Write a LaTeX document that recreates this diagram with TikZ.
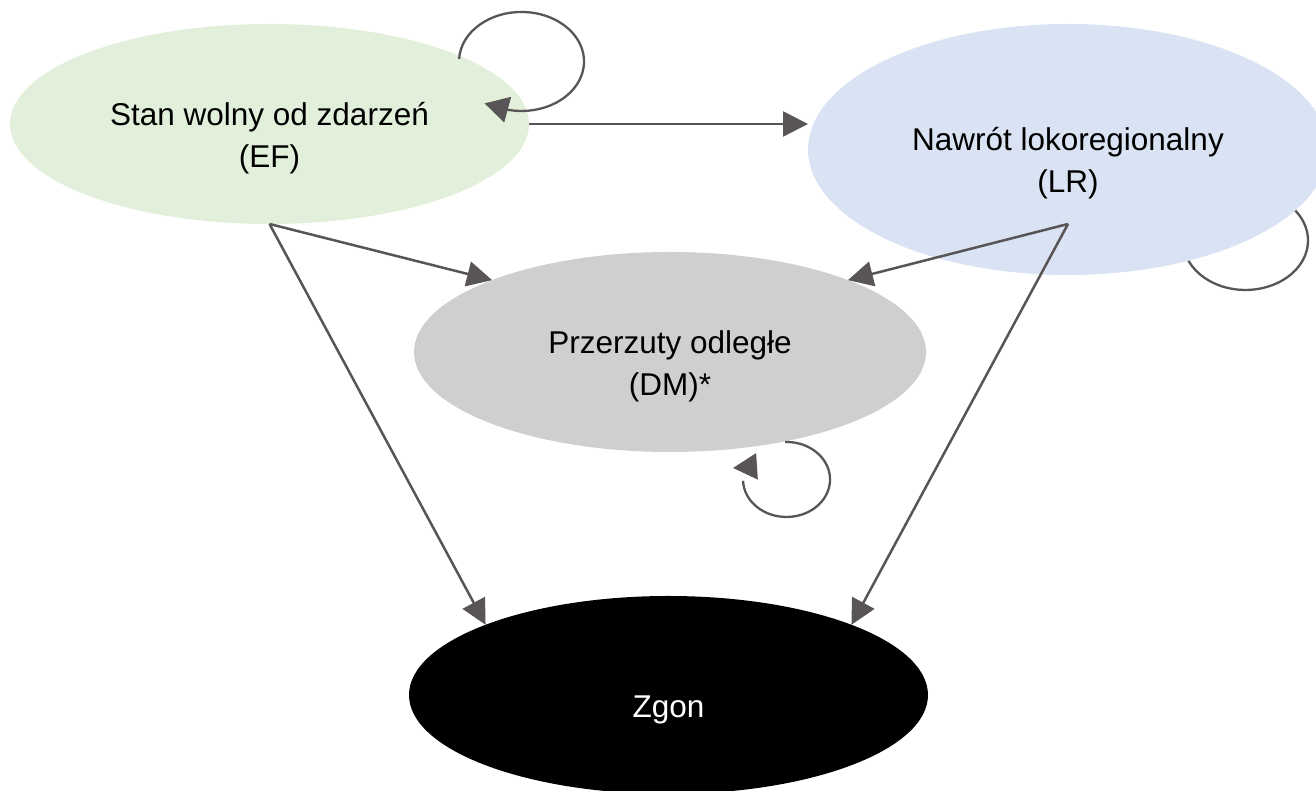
\documentclass[tikz,border=0pt]{standalone}
\usepackage{fontspec}
\setmainfont{Liberation Sans}
\usetikzlibrary{positioning, arrows.meta, shapes.geometric, backgrounds}

\definecolor{efgreen}{HTML}{E2EFDA}
\definecolor{lrblue}{HTML}{DAE3F3}
\definecolor{dmgray}{HTML}{D0CECE}
\definecolor{linegray}{RGB}{89,85,86}

% pushes the label a bit below the middle of the ellipse
\newcommand{\statestrut}{\rule{0pt}{25.5pt}}

\begin{document}
\begin{tikzpicture}[
    x=0.5pt, y=0.5pt,
    state/.style={
      ellipse,
      minimum width=259.5pt,
      minimum height=100pt,
      inner sep=0pt,
      outer sep=0pt,
      align=center,
      font=\fontsize{15.75}{21}\selectfont
    },
    state arrow/.style={
      -{Triangle[length=12.5pt, width=12.5pt]},
      line width=1.25pt,
      color=linegray
    },
    loop line/.style={
      line width=1.15pt,
      color=linegray
    },
    loop arrow/.style={
      loop line,
      -{Triangle[length=12pt, width=13pt]}
    }
  ]

    \useasboundingbox (0,0) rectangle (1316,791);

    \node[state, fill=efgreen] (EF) at (269.5,667) {\statestrut Stan wolny od zdarzeń\\(EF)};

    \node[state, fill=lrblue, minimum width=260pt, minimum height=125.5pt] (LR) at (1068,641.5)
      {\statestrut Nawrót lokoregionalny\\(LR)};

    \node[state, fill=dmgray, minimum width=256pt] (DM) at (670,439)
      {\statestrut Przerzuty odległe\\(DM)*};

    \node[state, fill=black, text=white, minimum height=99pt] (Zgon) at (668.5,96)
      {\statestrut Zgon};

    % transitions
    \draw[state arrow] (EF.east) -- (EF.east -| LR.west);
    \draw[state arrow] (EF.south) -- (DM.158);
    \draw[state arrow] (EF.south) -- (Zgon.159);

    \coordinate (LRout) at (LR.center |- EF.south);
    \draw[state arrow] (LRout) -- (DM.22);
    \draw[state arrow] (LRout) -- (Zgon.21);

    % staying in the same state
    \draw[loop arrow] ([shift={(189.6,65.1)}]EF.center)
      arc[start angle=177, end angle=-102, x radius=62.5, y radius=49.5] -- ++(-24,6.5);

    \draw[loop arrow] ([shift={(115,-90)}]DM.center)
      arc[start angle=92, end angle=-178, x radius=43.5, y radius=37.5]
      ++(12.5,14.3) -- ++(-22.5,-1.5);

    \begin{scope}[on background layer]
      \draw[loop line] ([shift={(208.75,-48.1)}]LR.center)
        arc[start angle=60, end angle=-165, x radius=62.5, y radius=49.5];
    \end{scope}

  \end{tikzpicture}
\end{document}
